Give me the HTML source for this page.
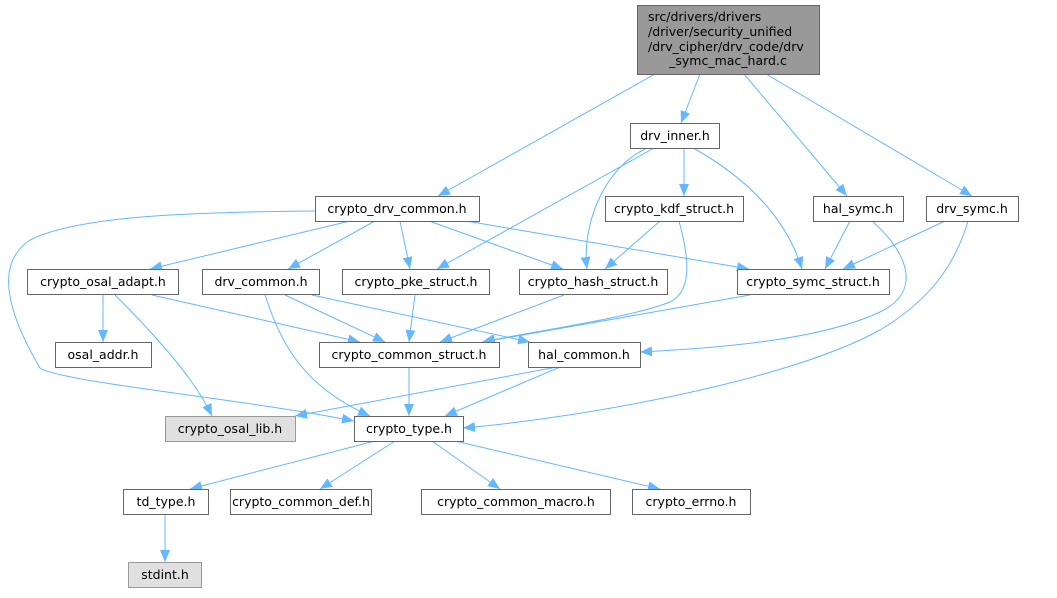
<!DOCTYPE html>
<html><head><meta charset="utf-8"><style>
html,body{margin:0;padding:0;background:#fff}
svg text{font-family:"DejaVu Sans","Liberation Sans",sans-serif;font-size:12.5px;fill:#000}
</style></head><body>
<svg width="1057" height="593" viewBox="0 0 1057 593" xmlns="http://www.w3.org/2000/svg">
<defs><marker id="a" viewBox="0 0 12 12" refX="12" refY="6" markerWidth="12" markerHeight="12" markerUnits="userSpaceOnUse" orient="auto"><path d="M0,1L12,6L0,11z" fill="#63b8ff"/></marker></defs>
<g fill="none" stroke="#63b8ff" stroke-width="1" marker-end="url(#a)">
<path d="M655,74L438,196"/>
<path d="M700,74L681,123"/>
<path d="M744,74L847,196"/>
<path d="M766,74L972,196"/>
<path d="M684,148L684,196"/>
<path d="M654,148L437,269"/>
<path d="M647,148C600,170 582,230 587,269"/>
<path d="M693,148C760,185 790,230 802,269"/>
<path d="M660,221L605,269"/>
<path d="M679,221C687,250 695,290 670,302C630,318 530,332 482,342"/>
<path d="M850,221L825,269"/>
<path d="M872,221C905,250 925,290 880,312C820,340 720,348 640,352"/>
<path d="M945,221L843,269"/>
<path d="M968,221C955,265 930,300 880,330C780,385 560,420 463,428"/>
<path d="M350,221L150,269"/>
<path d="M375,221L288,269"/>
<path d="M400,221L410,269"/>
<path d="M429,221L563,269"/>
<path d="M466,221L749,269"/>
<path d="M315,211C200,212 80,215 30,240C0,260 0,300 40,368C60,382 250,400 354,421"/>
<path d="M103,295L103,342"/>
<path d="M115,295C160,340 195,380 212,416"/>
<path d="M152,295L360,342"/>
<path d="M285,295L385,342"/>
<path d="M265,295C280,340 300,385 370,416"/>
<path d="M312,295L530,342"/>
<path d="M415,295L409,342"/>
<path d="M564,295L440,342"/>
<path d="M750,295L483,342"/>
<path d="M409,367L409,416"/>
<path d="M557,367L295,416"/>
<path d="M560,367L445,416"/>
<path d="M375,441L190,489"/>
<path d="M395,441L320,489"/>
<path d="M432,441L500,489"/>
<path d="M455,441L660,489"/>
<path d="M165,514L165,562"/>
</g>
<g stroke="#666" stroke-width="1" fill="#fff">
<rect x="637.5" y="5.5" width="182" height="69" fill="#999"/>
<rect x="630.5" y="123.5" width="89" height="25"/>
<rect x="315.5" y="196.5" width="164" height="25"/>
<rect x="605.5" y="196.5" width="138" height="25"/>
<rect x="813.5" y="196.5" width="90" height="25"/>
<rect x="926.5" y="196.5" width="92" height="25"/>
<rect x="27.5" y="269.5" width="151" height="25"/>
<rect x="202.5" y="269.5" width="117" height="25"/>
<rect x="342.5" y="269.5" width="147" height="25"/>
<rect x="519.5" y="269.5" width="148" height="25"/>
<rect x="737.5" y="269.5" width="152" height="25"/>
<rect x="55.5" y="342.5" width="96" height="25"/>
<rect x="319.5" y="342.5" width="180" height="25"/>
<rect x="528.5" y="342.5" width="112" height="25"/>
<rect x="165.5" y="416.5" width="130" height="25" fill="#e0e0e0" stroke="#999"/>
<rect x="354.5" y="416.5" width="109" height="25"/>
<rect x="123.5" y="489.5" width="85" height="25"/>
<rect x="230.5" y="489.5" width="141" height="25"/>
<rect x="421.5" y="489.5" width="189" height="25"/>
<rect x="632.5" y="489.5" width="118" height="25"/>
<rect x="128.5" y="562.5" width="73" height="25" fill="#e0e0e0" stroke="#999"/>
</g>
<g>
<text x="648" y="21">src/drivers/drivers</text>
<text x="648" y="36">/driver/security_unified</text>
<text x="648" y="51">/drv_cipher/drv_code/drv</text>
<text x="728" y="65" text-anchor="middle">_symc_mac_hard.c</text>
</g>
<g text-anchor="middle">
<text x="675" y="140">drv_inner.h</text>
<text x="397" y="213">crypto_drv_common.h</text>
<text x="674" y="213">crypto_kdf_struct.h</text>
<text x="858" y="213">hal_symc.h</text>
<text x="972" y="213">drv_symc.h</text>
<text x="103" y="286">crypto_osal_adapt.h</text>
<text x="261" y="286">drv_common.h</text>
<text x="416" y="286">crypto_pke_struct.h</text>
<text x="593" y="286">crypto_hash_struct.h</text>
<text x="813" y="286">crypto_symc_struct.h</text>
<text x="103" y="359">osal_addr.h</text>
<text x="409" y="359">crypto_common_struct.h</text>
<text x="584" y="359">hal_common.h</text>
<text x="230" y="433">crypto_osal_lib.h</text>
<text x="409" y="433">crypto_type.h</text>
<text x="166" y="506">td_type.h</text>
<text x="301" y="506">crypto_common_def.h</text>
<text x="516" y="506">crypto_common_macro.h</text>
<text x="691" y="506">crypto_errno.h</text>
<text x="165" y="579">stdint.h</text>
</g>
</svg>
</body></html>
